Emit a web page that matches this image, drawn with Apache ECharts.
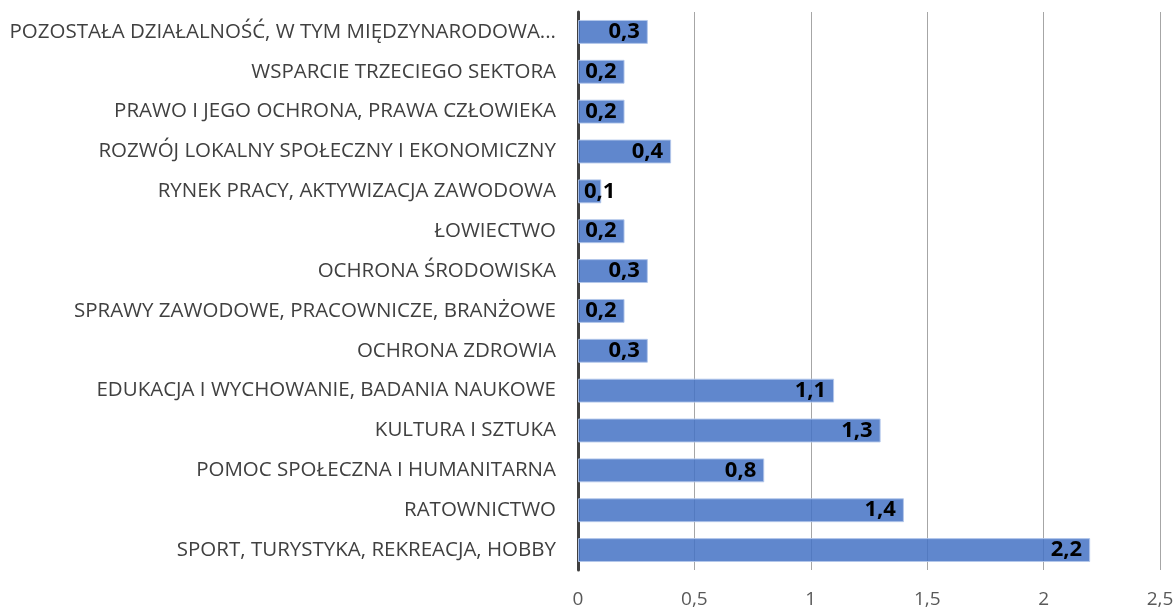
<!DOCTYPE html>
<html>
<head>
    <meta http-equiv="Content-Type" content="text/html; charset=UTF-8">
    <title>Działalność</title>
    <script src="https://cdn.jsdelivr.net/npm/echarts@6/dist/echarts.min.js"></script>
    <style type="text/css">
        *{padding:0;margin:0}
        body{background:#fff}
    </style>
</head>
<body>
<div id="chart" style="width:1175px;height:610px;"></div>
<script type="text/javascript">
    // kategorie od dołu do góry
    var categories = [
        'SPORT, TURYSTYKA, REKREACJA, HOBBY',
        'RATOWNICTWO',
        'POMOC SPOŁECZNA I HUMANITARNA',
        'KULTURA I SZTUKA',
        'EDUKACJA I WYCHOWANIE, BADANIA NAUKOWE',
        'OCHRONA ZDROWIA',
        'SPRAWY ZAWODOWE, PRACOWNICZE, BRANŻOWE',
        'OCHRONA ŚRODOWISKA',
        'ŁOWIECTWO',
        'RYNEK PRACY, AKTYWIZACJA ZAWODOWA',
        'ROZWÓJ LOKALNY SPOŁECZNY I EKONOMICZNY',
        'PRAWO I JEGO OCHRONA, PRAWA CZŁOWIEKA',
        'WSPARCIE TRZECIEGO SEKTORA',
        'POZOSTAŁA DZIAŁALNOŚĆ, W TYM MIĘDZYNARODOWA...'
    ];
    var values = [2.2, 1.4, 0.8, 1.3, 1.1, 0.3, 0.2, 0.3, 0.2, 0.1, 0.4, 0.2, 0.2, 0.3];

    var font = 'Open Sans';
    var comma = function (v) { return String(v).replace('.', ','); };

    // za krótki słupek -> etykieta od lewej, jak w Excelu
    var barData = values.map(function (v) {
        if (v < 0.15) {
            return {value: v, label: {position: 'insideLeft', distance: 6}};
        }
        return v;
    });

    var option = {
        animation: false,
        grid: {left: 578, right: 15, top: 12, bottom: 40, outerBoundsMode: 'none', containLabel: false},
        xAxis: {
            type: 'value',
            min: 0,
            max: 2.5,
            interval: 0.5,
            axisLine: {show: false},
            axisTick: {show: false},
            splitLine: {lineStyle: {color: '#a6a6a6', width: 1}},
            axisLabel: {
                formatter: comma,
                color: '#595959',
                fontFamily: font,
                fontSize: 19,
                margin: 20
            }
        },
        yAxis: {
            type: 'category',
            data: categories,
            axisLine: {show: true, lineStyle: {color: '#404040', width: 3}},
            axisTick: {show: false},
            axisLabel: {
                color: '#404040',
                fontFamily: font,
                fontSize: 20.5,
                margin: 22
            }
        },
        series: [{
            type: 'bar',
            data: barData,
            barWidth: '60%',
            itemStyle: {
                color: 'rgba(68,114,196,0.85)',
                borderColor: 'rgba(180,200,235,0.9)',
                borderWidth: 1
            },
            label: {
                show: true,
                position: 'insideRight',
                distance: 8,
                formatter: function (p) { return comma(p.value); },
                color: '#000',
                fontWeight: 'bold',
                fontFamily: font,
                fontSize: 22
            }
        }]
    };

    var chart = echarts.init(document.getElementById('chart'));
    chart.setOption(option);
</script>
</body>
</html>
